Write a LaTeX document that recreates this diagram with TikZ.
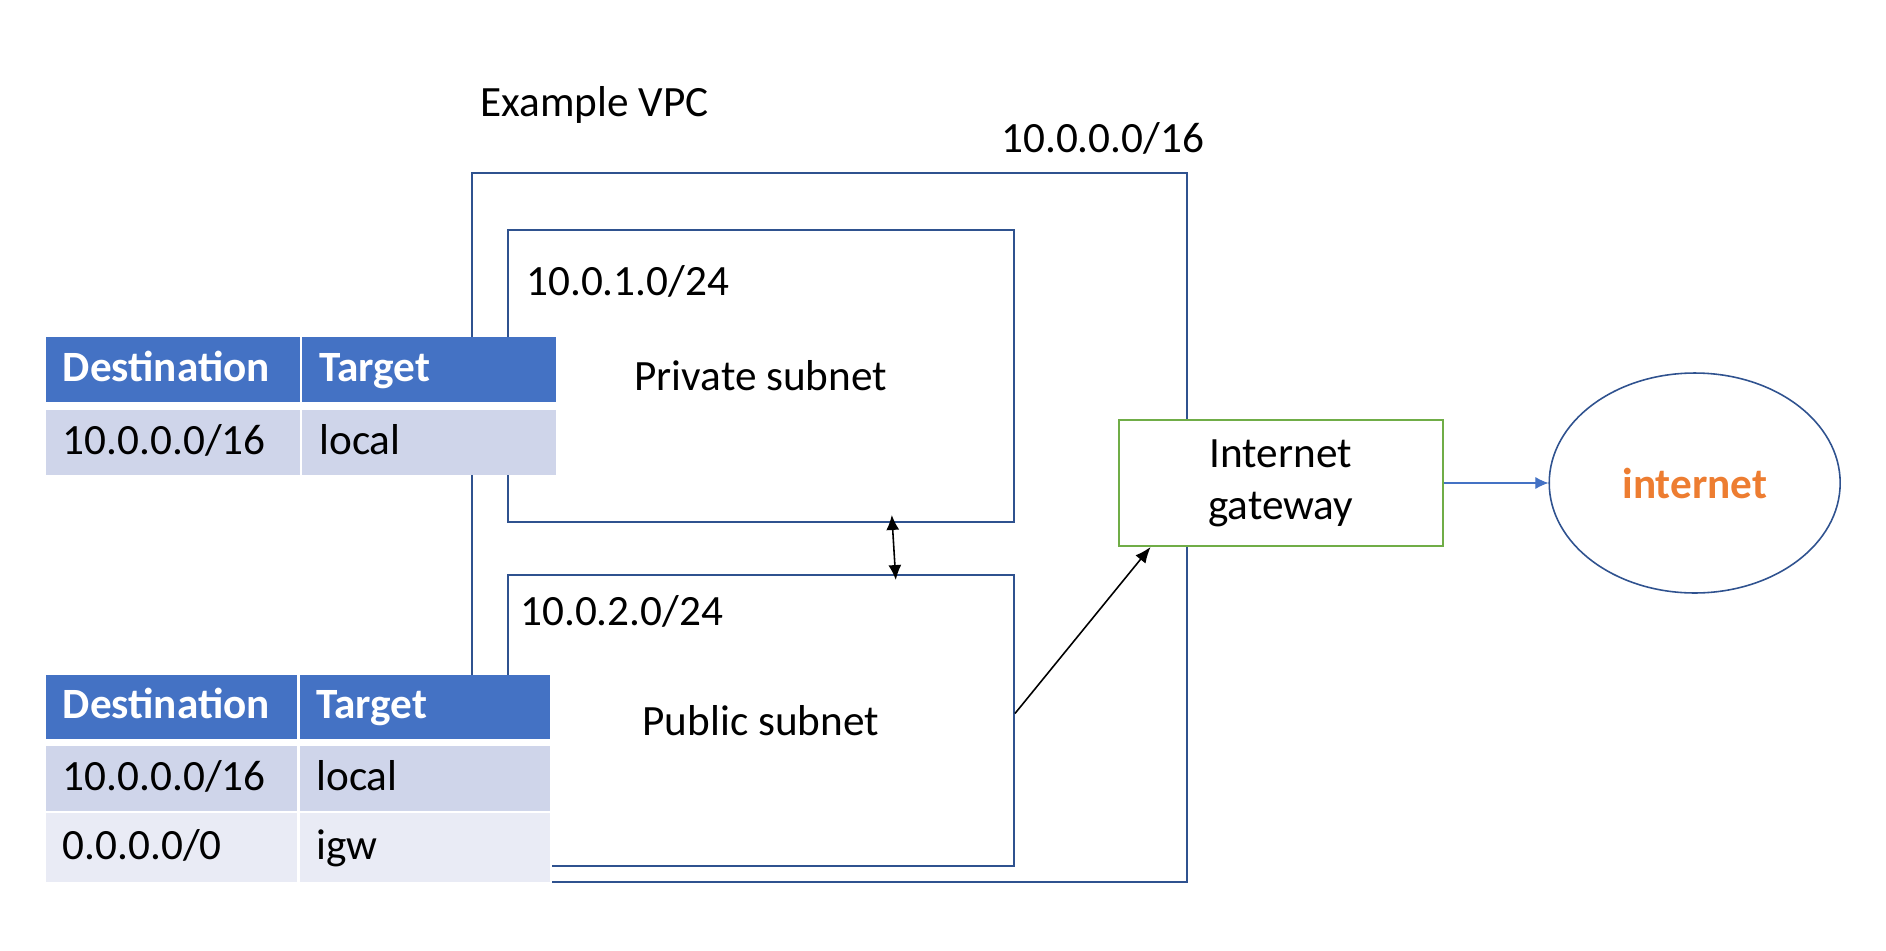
\documentclass[tikz,border=0pt]{standalone}
\usepackage{fontspec}
\setmainfont{Carlito}
\usetikzlibrary{positioning,shapes.geometric,arrows.meta}
\definecolor{vpcblue}{RGB}{47,82,143}
\definecolor{hdrblue}{RGB}{68,114,196}
\definecolor{rowdark}{RGB}{207,213,234}
\definecolor{rowlight}{RGB}{233,235,245}
\definecolor{gwgreen}{RGB}{112,173,71}
\definecolor{inetorange}{RGB}{237,125,49}
\tikzset{
  netbox/.style={draw=vpcblue, line width=1.1pt, inner sep=0pt},
  celltext/.style={anchor=west, inner sep=0pt, text height=1.5ex, text depth=.3ex},
  hdrtext/.style={celltext, text=white, font=\bfseries},
}

\begin{document}
\begin{tikzpicture}[x=0.02cm,y=-0.02cm]
\fontsize{24.6}{29.5}\selectfont
\useasboundingbox (0,0) rectangle (1886,950);
% vpc and subnets
\node[netbox, minimum width=14.31cm, minimum height=14.18cm] (vpc) at (829.3,527.5) {};
\node[netbox, minimum width=10.13cm, minimum height=5.84cm] (priv) at (760.8,376) {Private subnet};
\node[netbox, minimum width=10.13cm, minimum height=5.82cm] (pub) at (760.8,720.5) {Public subnet};
\node[anchor=west, inner sep=0pt] (vpcname) at (480,105) {Example VPC};
\node[anchor=west, inner sep=0pt] (vpccidr) at (1001,138) {10.0.0.0/16};
\node[anchor=west, inner sep=0pt] (privcidr) at (526,281) {10.0.1.0/24};
\node[anchor=west, inner sep=0pt] (pubcidr) at (520,611) {10.0.2.0/24};
% gateway and internet
\node[draw=gwgreen, fill=white, line width=1.1pt, minimum width=6.49cm, minimum height=2.52cm, align=center] (gw) at (1280.8,483) {Internet\\gateway};
\node[ellipse, draw=vpcblue, line width=0.9pt, minimum width=5.82cm, minimum height=4.4cm, text=inetorange, font=\bfseries] (inet) at (1694.7,483) {internet};
\draw[line width=0.9pt, {Latex[length=0.3cm,width=0.26cm]}-{Latex[length=0.3cm,width=0.26cm]}] ([shift={(131,-8)}]priv.south) -- ([shift={(135,6)}]pub.north);
\draw[line width=0.9pt, -{Latex[length=0.32cm,width=0.26cm]}] ([shift={(0,-7)}]pub.east) -- ([shift={(33,0)}]gw.south west);
\draw[hdrblue, line width=0.6pt, -{Latex[length=0.26cm,width=0.24cm]}] (gw.east) -- (inet.west);
% private route table
\fill[white] (45.7,337) rectangle (555.7,475.3);
\fill[hdrblue] (45.7,337) rectangle (299.5,402.3);
\fill[hdrblue] (302.3,337) rectangle (555.7,402.3);
\fill[rowdark] (45.7,410) rectangle (299.5,475.3);
\fill[rowdark] (302.3,410) rectangle (555.7,475.3);
\node[hdrtext] (privdest) at (62.5,369.6) {Destination};
\node[hdrtext] (privtarget) at (319,369.6) {Target};
\node[celltext] (privdestA) at (62.5,442.6) {10.0.0.0/16};
\node[celltext] (privtargetA) at (319,442.6) {local};
% public route table
\fill[white] (45.7,674.8) rectangle (551.5,884);
\fill[hdrblue] (45.7,674.8) rectangle (297,738.5);
\fill[hdrblue] (299.5,674.8) rectangle (549.7,738.5);
\fill[rowdark] (45.7,745.7) rectangle (297,810.7);
\fill[rowdark] (299.5,745.7) rectangle (549.7,810.7);
\fill[rowlight] (45.7,813.4) rectangle (297,881.6);
\fill[rowlight] (299.5,813.4) rectangle (549.7,881.6);
\node[hdrtext] (pubdest) at (62.5,706.6) {Destination};
\node[hdrtext] (pubtarget) at (316,706.6) {Target};
\node[celltext] (pubdestA) at (62.5,778.2) {10.0.0.0/16};
\node[celltext] (pubtargetA) at (316,778.2) {local};
\node[celltext] (pubdestB) at (62.5,847.5) {0.0.0.0/0};
\node[celltext] (pubtargetB) at (316,847.5) {igw};
\end{tikzpicture}
\end{document}
